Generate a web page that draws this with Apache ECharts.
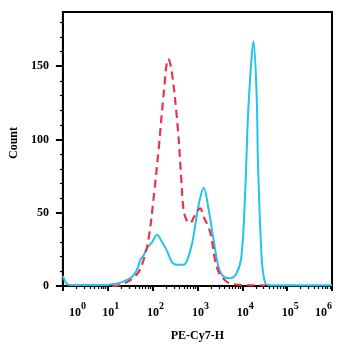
<!DOCTYPE html>
<html>
<head>
<meta charset="utf-8">
<script src="https://cdn.jsdelivr.net/npm/echarts@6/dist/echarts.min.js"></script>
<style>
  html, body { margin: 0; padding: 0; background: #fff; }
  #chart { width: 359px; height: 347px; }
</style>
</head>
<body>
<div id="chart"></div>
<script>
// Stained sample (solid cyan): log10 of PE-Cy7-H intensity and event count
const stainedLogX = [0.0, 0.05, 0.12, 0.3, 0.6, 0.9, 1.1, 1.3, 1.45, 1.55, 1.65, 1.73, 1.8, 1.88, 1.99,
  2.1, 2.21, 2.32, 2.44, 2.55, 2.69, 2.77, 2.88, 2.98, 3.06, 3.14, 3.25, 3.36, 3.47, 3.58, 3.73,
  3.87, 3.98, 4.06, 4.13, 4.21, 4.25, 4.32, 4.35, 4.43, 4.5, 4.57, 5.0, 5.5, 6.0];
const stainedCount = [7, 3, 0.8, 0.6, 0.6, 0.6, 1.2, 2.5, 4.5, 6.5, 11, 18, 21, 26, 30,
  35, 30, 24, 16, 14.5, 14.5, 17.5, 29, 47, 60, 67, 52, 31.5, 13, 6.5, 5.3,
  8.5, 20, 61, 118, 157, 167, 130, 84, 20, 3, 0.7, 0.5, 0.5, 0.5];

// Control sample (dashed red)
const controlLogX = [1.1, 1.25, 1.45, 1.6, 1.7, 1.82, 1.92, 2.03, 2.14, 2.25, 2.35, 2.42, 2.55, 2.64,
  2.69, 2.77, 2.84, 2.92, 2.99, 3.06, 3.14, 3.25, 3.32, 3.39, 3.48, 3.58, 3.7, 3.85, 3.98, 4.2, 4.43, 4.5];
const controlCount = [0, 0.5, 3, 6.5, 10, 20, 34, 62, 95, 132, 155, 148, 112, 73,
  52, 44, 43, 47, 51, 53, 47, 40, 31.5, 18, 9, 5, 2, 1, 0.7, 0.5, 0.5, 0.3];

// Axis ticks
const xMajorTicks = [1, 10, 100, 1000, 10000, 100000, 1000000];
const xMinorTicks = [];
for (let d = 0; d < 6; d++) {
  for (let m = 2; m <= 9; m++) xMinorTicks.push(m * Math.pow(10, d));
}
const yMajorTicks = [0, 50, 100, 150];
const yMinorTicks = [10, 20, 30, 40, 60, 70, 80, 90, 110, 120, 130, 140, 160, 170, 180];
const yMax = 187;

const toPoints = (logX, counts) => logX.map((e, i) => [Math.pow(10, e), counts[i]]);

const FONT = 'Liberation Serif';
const chart = echarts.init(document.getElementById('chart'), null, { renderer: 'canvas' });

chart.setOption({
  animation: false,
  backgroundColor: '#fff',
  grid: {
    left: 60, right: 27, top: 12, bottom: 60,
    show: true, borderColor: '#000', borderWidth: 2, backgroundColor: 'transparent'
  },
  xAxis: [
    {
      type: 'log', logBase: 10, min: 1, max: 1000000,
      name: 'PE-Cy7-H', nameLocation: 'middle', nameGap: 44,
      nameTextStyle: { fontFamily: FONT, fontWeight: 'bold', fontSize: 12, color: '#000' },
      axisLine: { show: true, lineStyle: { color: '#000', width: 2 } },
      axisTick: { show: true, length: 5, lineStyle: { color: '#000', width: 2 }, customValues: xMajorTicks },
      splitLine: { show: false },
      minorTick: { show: false },
      axisLabel: {
        color: '#000', margin: 15,
        alignMinLabel: 'left', alignMaxLabel: 'right',
        customValues: xMajorTicks,
        formatter: function (v) {
          return '{b|10}{s|' + Math.round(Math.log10(v)) + '}';
        },
        rich: {
          b: { fontFamily: FONT, fontWeight: 'bold', fontSize: 12, color: '#000', padding: [0, 0, 0, 6], verticalAlign: 'bottom' },
          s: { fontFamily: FONT, fontWeight: 'bold', fontSize: 10, color: '#000', padding: [0, 0, 8, 0], verticalAlign: 'bottom' }
        }
      }
    },
    {
      type: 'log', logBase: 10, min: 1, max: 1000000, position: 'bottom', offset: 0,
      axisLine: { show: false },
      axisTick: { show: true, length: 3, lineStyle: { color: '#000', width: 1.2 }, customValues: xMinorTicks },
      axisLabel: { show: false },
      splitLine: { show: false }
    }
  ],
  yAxis: [
    {
      type: 'value', min: 0, max: yMax,
      name: 'Count', nameLocation: 'middle', nameGap: 39, nameRotate: 90,
      nameTextStyle: { fontFamily: FONT, fontWeight: 'bold', fontSize: 12, color: '#000', padding: [0, 0, 0, 12] },
      axisLine: { show: true, lineStyle: { color: '#000', width: 2 } },
      axisTick: { show: true, length: 7, lineStyle: { color: '#000', width: 2 }, customValues: yMajorTicks },
      axisLabel: {
        customValues: yMajorTicks, margin: 14,
        fontFamily: FONT, fontWeight: 'bold', fontSize: 12, color: '#000'
      },
      splitLine: { show: false }
    },
    {
      type: 'value', min: 0, max: yMax, position: 'left', offset: 0,
      axisLine: { show: false },
      axisTick: { show: true, length: 3, lineStyle: { color: '#000', width: 1.2 }, customValues: yMinorTicks },
      axisLabel: { show: false },
      splitLine: { show: false }
    }
  ],
  series: [
    {
      type: 'line', xAxisIndex: 0, yAxisIndex: 0,
      data: toPoints(stainedLogX, stainedCount),
      smooth: 0.35, showSymbol: false,
      lineStyle: { color: '#22c3ec', width: 2 }
    },
    {
      type: 'line', xAxisIndex: 0, yAxisIndex: 0,
      data: toPoints(controlLogX, controlCount),
      smooth: 0.35, showSymbol: false,
      lineStyle: { color: '#e8344a', width: 2.2, type: [8, 5] }
    }
  ]
});
</script>
</body>
</html>
